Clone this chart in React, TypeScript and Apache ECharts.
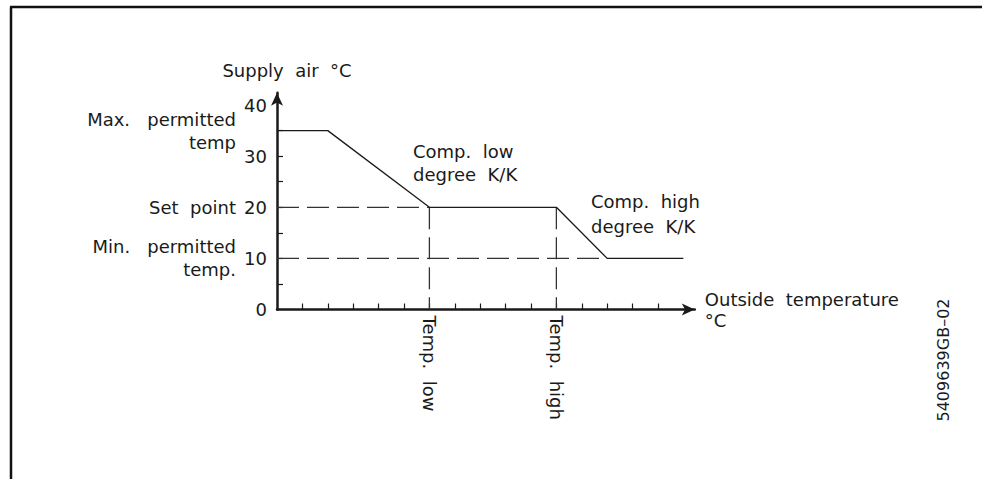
import React, { useEffect, useRef } from "react";
import * as echarts from "echarts";

// Control curve: outside temperature (tick units) -> supply air °C
const curveX = [0, 2, 6, 11, 13, 16];
const curveY = [35, 35, 20, 20, 10, 10];

// Reference (dashed) guide lines
const setPointLine = [[0, 20], [6, 20]];
const minTempLine = [[0, 10], [13, 10]];
const tempLowLine = [[6, 20], [6, 0]];
const tempHighLine = [[11, 20], [11, 0]];

// Axis ticks and labels
const xTicks = [1, 2, 3, 4, 5, 6, 7, 8, 9, 10, 11, 12, 13, 14, 15];
const xLabelValues = [6, 11];
const xLabelTexts = ["Temp.  low", "Temp.  high"];
const yTicks = [5, 10, 15, 20, 25, 30, 35];
const yLabelValues = [0, 10, 20, 30, 40];
const yNoteValues = [35, 20, 10];
const yNoteTexts = ["Max.   permitted\ntemp", "Set  point", "Min.   permitted\ntemp."];

const FONT = "DejaVu Sans";
const INK = "#1a1a1a";
const FS = 18;

export default function App() {
  const ref = useRef<HTMLDivElement>(null);
  useEffect(() => {
    if (!ref.current) return;
    const chart = echarts.init(ref.current, undefined, { renderer: "svg" });
    const dashStyle = { color: "#333", width: 1.3, type: [22, 8] as any };
    const mkDash = (d: number[][]) => ({
      type: "line",
      data: d,
      symbol: "none",
      silent: true,
      lineStyle: dashStyle,
      z: 1,
    });
    chart.setOption({
      animation: false,
      backgroundColor: "#fff",
      textStyle: { fontFamily: FONT, color: INK },
      grid: { left: 277, top: 92.8, bottom: 169.5, width: 417.8, containLabel: false },
      xAxis: {
        type: "value",
        min: 0,
        max: 16.45,
        name: "Outside  temperature\n°C",
        nameLocation: "end",
        nameGap: 10,
        nameTextStyle: {
          fontFamily: FONT,
          fontSize: FS,
          color: INK,
          align: "left",
          verticalAlign: "middle",
          lineHeight: 21,
          padding: [2, 0, 0, 0],
        },
        axisLine: {
          show: true,
          symbol: ["none", "arrow"],
          symbolSize: [9, 13],
          lineStyle: { color: INK, width: 2.5 },
        },
        axisTick: {
          show: true,
          inside: true,
          length: 6,
          customValues: xTicks,
          lineStyle: { color: INK, width: 1.2 },
        },
        axisLabel: {
          show: true,
          customValues: xLabelValues,
          rotate: -90,
          margin: 6,
          fontFamily: FONT,
          fontSize: FS,
          color: INK,
          formatter: (v: number) => {
            const i = xLabelValues.indexOf(v);
            return i >= 0 ? xLabelTexts[i] : "";
          },
        },
        splitLine: { show: false },
      },
      yAxis: [
        {
          type: "value",
          min: 0,
          max: 42.4,
          name: "Supply  air  °C",
          nameLocation: "end",
          nameGap: 22,
          nameTextStyle: {
            fontFamily: FONT,
            fontSize: FS,
            color: INK,
            align: "center",
            verticalAlign: "middle",
            padding: [0, 0, 0, 20],
          },
          axisLine: {
            show: true,
            symbol: ["none", "arrow"],
            symbolSize: [9, 13],
            lineStyle: { color: INK, width: 2.5 },
          },
          axisTick: {
            show: true,
            inside: true,
            length: 6,
            customValues: yTicks,
            lineStyle: { color: INK, width: 1.2 },
          },
          axisLabel: {
            show: true,
            customValues: yLabelValues,
            margin: 10,
            fontFamily: FONT,
            fontSize: FS,
            color: INK,
          },
          splitLine: { show: false },
        },
        {
          type: "value",
          position: "left",
          min: 0,
          max: 42.4,
          axisLine: { show: false },
          axisTick: { show: false },
          splitLine: { show: false },
          axisLabel: {
            show: true,
            customValues: yNoteValues,
            margin: 41,
            fontFamily: FONT,
            fontSize: FS,
            color: INK,
            lineHeight: 23,
            align: "right",
            formatter: (v: number) => {
              const i = yNoteValues.indexOf(v);
              return i >= 0 ? yNoteTexts[i] : "";
            },
          },
        },
      ],
      series: [
        mkDash(setPointLine),
        mkDash(minTempLine),
        mkDash(tempLowLine),
        mkDash(tempHighLine),
        {
          type: "line",
          data: curveX.map((x, i) => [x, curveY[i]]),
          symbol: "none",
          silent: true,
          lineStyle: { color: INK, width: 1.3 },
          z: 3,
        },
      ],
      graphic: [
        { type: "line", shape: { x1: 10, y1: 7, x2: 982, y2: 7 }, style: { stroke: "#111", lineWidth: 2.5 } },
        { type: "line", shape: { x1: 11, y1: 7, x2: 11, y2: 479 }, style: { stroke: "#111", lineWidth: 2.5 } },
        {
          type: "text",
          x: 413,
          y: 163,
          style: { text: "Comp.  low\ndegree  K/K", font: `${FS}px '${FONT}'`, fill: INK, lineHeight: 23, verticalAlign: "middle" },
        },
        {
          type: "text",
          x: 591,
          y: 214,
          style: { text: "Comp.  high\ndegree  K/K", font: `${FS}px '${FONT}'`, fill: INK, lineHeight: 25, verticalAlign: "middle" },
        },
        {
          type: "text",
          x: 943,
          y: 360,
          rotation: Math.PI / 2,
          style: { text: "5409639GB–02", font: `16px '${FONT}'`, fill: INK, align: "center", verticalAlign: "middle" },
        },
      ],
    });
    return () => chart.dispose();
  }, []);
  return <div ref={ref} style={{ width: 982, height: 479, position: "absolute", left: 0, top: 0 }} />;
}
